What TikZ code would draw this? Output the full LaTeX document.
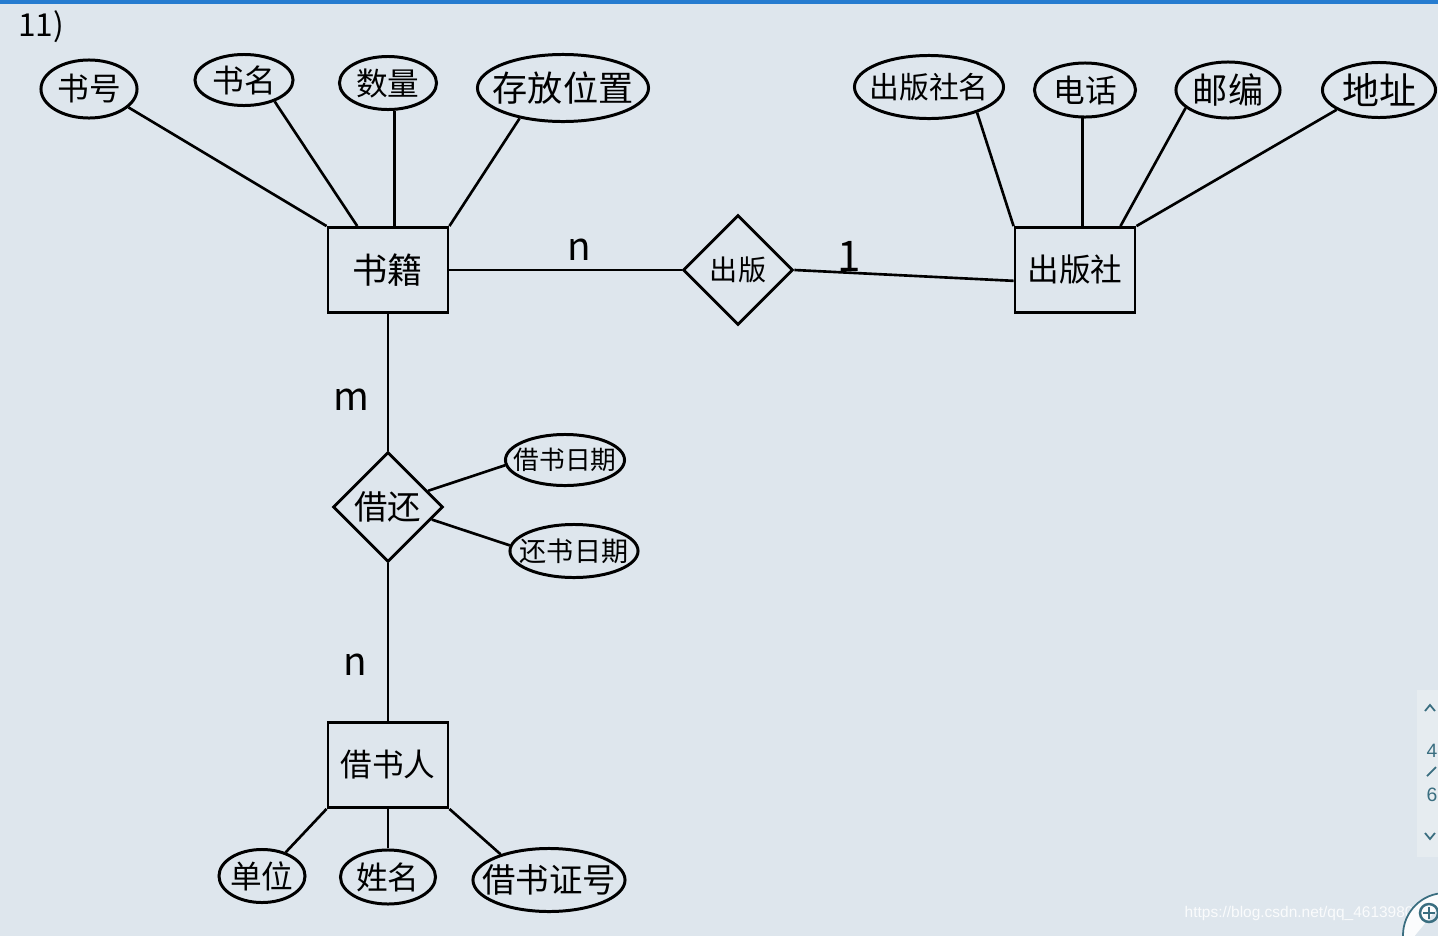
\documentclass[tikz,border=0pt]{standalone}
\usepackage{fontspec}
\setmainfont{Noto Sans CJK SC}
\newfontfamily\webfont{Liberation Sans}
\usetikzlibrary{shapes.geometric}
\definecolor{paper}{RGB}{222,230,237}
\definecolor{topbar}{RGB}{38,124,208}
\definecolor{pager}{RGB}{58,110,128}
\definecolor{pagerbg}{RGB}{230,236,240}

\begin{document}
\begin{tikzpicture}[
    x=0.01cm, y=-0.01cm,
    entity/.style={rectangle, draw=black, line width=0.8pt, minimum width=1.2cm, minimum height=0.85cm, inner sep=0pt, font=\fontsize{10}{10}\selectfont},
    relation/.style={diamond, draw=black, line width=0.8pt, minimum size=1.1cm, inner sep=0pt, font=\fontsize{8}{8}\selectfont},
    attr/.style={ellipse, draw=black, line width=0.85pt, inner xsep=-4.5pt, inner ysep=0pt, font=\fontsize{9}{9}\selectfont},
    link/.style={line width=0.75pt},
    card/.style={font=\fontsize{11}{11}\selectfont, inner sep=0pt}
]

% Page
\useasboundingbox (0,0) rectangle (1438,936);
\clip (0,0) rectangle (1438,936);
\fill[paper] (0,0) rectangle (1438,936);
\fill[topbar] (0,0) rectangle (1438,4);
\node[font=\fontsize{9}{9}\selectfont] (title) at (41,27) {11)};

% Entities
\node[entity] (shuji) at (388,270) {书籍};
\node[entity, font=\fontsize{9}{9}\selectfont] (chubanshe) at (1075,270) {出版社};
\node[entity, font=\fontsize{9}{9}\selectfont] (jieshuren) at (388,765) {借书人};

% Relationships
\node[relation] (chuban) at (738,270) {出版};
\node[relation, font=\fontsize{9.5}{9.5}\selectfont] (jiehuan) at (388,507) {借还};

% Attributes: 书籍
\node[attr, minimum width=0.96cm, minimum height=0.58cm] (shuhao) at (89,89) {书号};
\node[attr, minimum width=0.98cm, minimum height=0.51cm] (shuming) at (244,80) {书名};
\node[attr, minimum width=0.97cm, minimum height=0.53cm] (shuliang) at (388,83) {数量};
\node[attr, minimum width=1.71cm, minimum height=0.67cm, font=\fontsize{10}{10}\selectfont] (weizhi) at (563,88) {存放位置};

% Attributes: 出版社
\node[attr, minimum width=1.49cm, minimum height=0.63cm, font=\fontsize{8.5}{8.5}\selectfont] (sheming) at (929,87) {出版社名};
\node[attr, minimum width=1.01cm, minimum height=0.54cm] (dianhua) at (1085,90) {电话};
\node[attr, minimum width=1.04cm, minimum height=0.56cm, font=\fontsize{10}{10}\selectfont] (youbian) at (1228,90) {邮编};
\node[attr, minimum width=1.13cm, minimum height=0.55cm, font=\fontsize{10.5}{10.5}\selectfont] (dizhi) at (1379,90) {地址};

% Attributes: 借还
\node[attr, minimum width=1.19cm, minimum height=0.51cm, font=\fontsize{7.3}{7.3}\selectfont] (jieriqi) at (565,460) {借书日期};
\node[attr, minimum width=1.28cm, minimum height=0.53cm, font=\fontsize{7.7}{7.7}\selectfont] (huanriqi) at (574,551) {还书日期};

% Attributes: 借书人
\node[attr, minimum width=0.86cm, minimum height=0.53cm] (danwei) at (262,876) {单位};
\node[attr, minimum width=0.95cm, minimum height=0.54cm] (xingming) at (388,877) {姓名};
\node[attr, minimum width=1.52cm, minimum height=0.63cm, font=\fontsize{9.5}{9.5}\selectfont] (zhenghao) at (549,880) {借书证号};

% Attribute links
\draw[link] (shuhao.335) -- (shuji.north west);
\draw[link] (shuming.325) -- (shuji.125);
\draw[link] (shuliang.283) -- (shuji.north -| shuliang.283);
\draw[link] (weizhi.215) -- (shuji.north east);
\draw[link] (sheming.332) -- (chubanshe.north west);
\draw[link] (dianhua.265) -- (chubanshe.north -| dianhua.265);
\draw[link] (youbian.203) -- (chubanshe.44);
\draw[link] (dizhi.205) -- (chubanshe.north east);
\draw[link] (jiehuan.22) -- (jieriqi.185);
\draw[link] (jiehuan.344) -- (huanriqi.175);
\draw[link] (danwei.45) -- (jieshuren.south west);
\draw[link] (xingming) -- (jieshuren);
\draw[link] (zhenghao.152) -- (jieshuren.south east);

% Relationship links
\draw[link] (shuji) -- (chuban) node[card, pos=0.56, above=2.3pt] (cardA) {n};
\draw[link] (chuban.east) -- (chubanshe.190) node[card, pos=0.25, above=0pt, font=\fontsize{12}{12}\selectfont] (cardB) {1};
\draw[link] (shuji) -- (jiehuan) node[card, pos=0.63, left=4.8pt] (cardC) {m};
\draw[link] (jiehuan) -- (jieshuren) node[card, pos=0.64, left=5.7pt] (cardD) {n};

% Viewer chrome
\fill[pagerbg] (1417,690) rectangle (1438,857);
\draw[pager, line width=0.5pt] (1425,711) -- (1430,705) -- (1435,711);
\node[pager, font=\webfont\fontsize{5.5}{5.5}\selectfont] (pageno) at (1432,751) {4};
\draw[pager, line width=0.5pt] (1427,776) -- (1436,767);
\node[pager, font=\webfont\fontsize{5.5}{5.5}\selectfont] (pagecount) at (1432,795) {6};
\draw[pager, line width=0.5pt] (1425,833) -- (1430,839) -- (1435,833);
\node[white, opacity=0.85, anchor=west, inner sep=0pt, font=\webfont\fontsize{4.4}{4.4}\selectfont] (mark) at (1184,913) {https://blog.csdn.net/qq\_4613980};
\draw[pager, fill=white, fill opacity=0.9, line width=0.5pt, rounded corners=12] (1403,950) -- (1403,893) -- (1450,893);
\draw[pager, line width=0.7pt] (1429,913) circle (9);
\draw[pager, line width=0.7pt] (1423,913) -- (1435,913) (1429,907) -- (1429,919);

\end{tikzpicture}
\end{document}
